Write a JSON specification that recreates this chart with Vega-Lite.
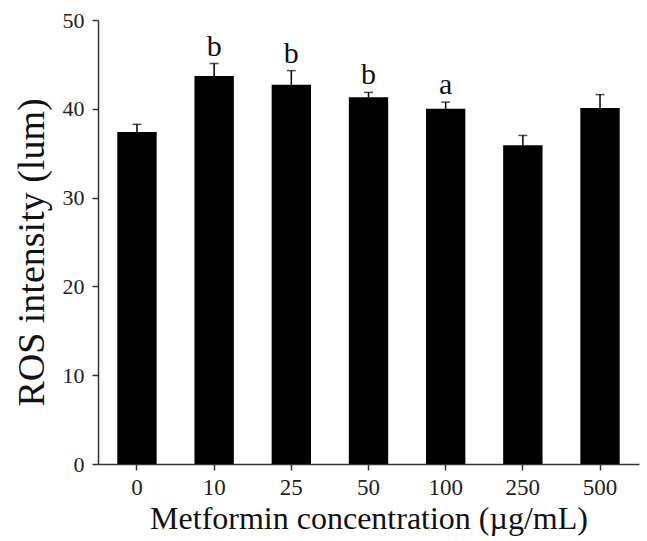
{
  "$schema": "https://vega.github.io/schema/vega-lite/v6.json",
  "autosize": "none",
  "width": 541,
  "height": 444,
  "padding": {"left": 98, "top": 20, "right": 8, "bottom": 77},
  "background": "white",
  "config": {
    "view": {"stroke": null},
    "font": "Liberation Serif"
  },
  "data": {
    "values": [
      {"conc": "0", "ros": 37.4, "err": 38.25, "label": ""},
      {"conc": "10", "ros": 43.7, "err": 45.1, "label": "b"},
      {"conc": "25", "ros": 42.7, "err": 44.3, "label": "b"},
      {"conc": "50", "ros": 41.3, "err": 41.85, "label": "b"},
      {"conc": "100", "ros": 40.0, "err": 40.75, "label": "a"},
      {"conc": "250", "ros": 35.9, "err": 37.0, "label": ""},
      {"conc": "500", "ros": 40.1, "err": 41.6, "label": ""}
    ]
  },
  "encoding": {
    "x": {
      "field": "conc",
      "type": "nominal",
      "sort": null,
      "scale": {"paddingInner": 0.49, "paddingOuter": 0.25},
      "axis": {
        "title": "Metformin concentration (µg/mL)",
        "labelAngle": 0,
        "labelFont": "Liberation Serif",
        "labelFontSize": 23,
        "labelColor": "#222",
        "labelPadding": 6,
        "tickSize": 6,
        "tickColor": "#333",
        "tickWidth": 1.5,
        "domainColor": "#333",
        "domainWidth": 1.5,
        "titleFont": "Liberation Serif",
        "titleFontSize": 32,
        "titleFontWeight": "normal",
        "titleColor": "#111",
        "titlePadding": 4
      }
    }
  },
  "layer": [
    {
      "mark": {"type": "bar", "color": "black"},
      "encoding": {
        "y": {
          "field": "ros",
          "type": "quantitative",
          "scale": {"domain": [0, 50]},
          "axis": {
            "title": "ROS intensity (lum)",
            "values": [0, 10, 20, 30, 40, 50],
            "grid": false,
            "labelFont": "Liberation Serif",
            "labelFontSize": 22,
            "labelColor": "#222",
            "labelPadding": 8,
            "tickSize": 6,
            "tickColor": "#333",
            "tickWidth": 1.5,
            "domainColor": "#333",
            "domainWidth": 1.5,
            "titleFont": "Liberation Serif",
            "titleFontSize": 38,
            "titleFontWeight": "normal",
            "titleColor": "#111",
            "titlePadding": 11,
            "titleY": 232
          }
        }
      }
    },
    {
      "mark": {"type": "rule", "color": "black", "strokeWidth": 1.5},
      "encoding": {
        "y": {"field": "ros", "type": "quantitative"},
        "y2": {"field": "err"}
      }
    },
    {
      "mark": {"type": "tick", "color": "black", "thickness": 1.5, "size": 9},
      "encoding": {
        "y": {"field": "err", "type": "quantitative"}
      }
    },
    {
      "mark": {"type": "text", "fontSize": 30, "dy": -8, "baseline": "alphabetic", "color": "#111", "font": "Liberation Serif"},
      "encoding": {
        "y": {"field": "err", "type": "quantitative"},
        "text": {"field": "label"}
      }
    }
  ]
}
